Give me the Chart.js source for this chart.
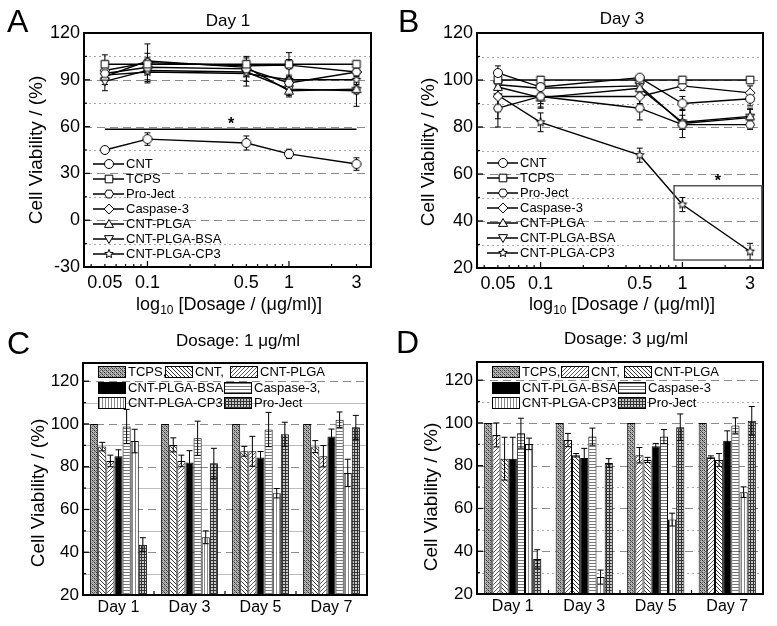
<!DOCTYPE html>
<html><head><meta charset="utf-8">
<script src="https://cdn.jsdelivr.net/npm/chart.js@4.4.1/dist/chart.umd.min.js"></script>
<style>
html,body{margin:0;padding:0;background:#fff;}
body{width:777px;height:626px;position:relative;overflow:hidden;font-family:"Liberation Sans",Arial,sans-serif;color:#000;}
canvas{position:absolute;}
.t{position:absolute;white-space:nowrap;line-height:1;}
.letter{font-size:32px;line-height:32px;}
.ttl{font-size:17px;transform:translate(-50%,-50%);}
.xt{font-size:18px;transform:translate(-50%,-50%);}
.yt{font-size:19px;transform:translate(-50%,-50%) rotate(-90deg);}
sub{font-size:12px;vertical-align:-4px;line-height:0;}
</style></head>
<body>
<canvas id="cA" width="390" height="320" style="left:0;top:0"></canvas>
<canvas id="cB" width="387" height="320" style="left:390px;top:0"></canvas>
<canvas id="cC" width="390" height="306" style="left:0;top:320px"></canvas>
<canvas id="cD" width="387" height="306" style="left:390px;top:320px"></canvas>
<div class="t letter" style="left:7px;top:5px">A</div>
<div class="t letter" style="left:398px;top:5px">B</div>
<div class="t letter" style="left:7px;top:327px">C</div>
<div class="t letter" style="left:396px;top:326px">D</div>
<div class="t ttl" style="left:228px;top:20px">Day 1</div>
<div class="t ttl" style="left:622px;top:18px">Day 3</div>
<div class="t ttl" style="left:238px;top:340px">Dosage: 1 μg/ml</div>
<div class="t ttl" style="left:626px;top:338px">Dosage: 3 μg/ml</div>
<div class="t yt" style="left:35px;top:150px">Cell Viability / (%)</div>
<div class="t yt" style="left:427px;top:152px">Cell Viability / (%)</div>
<div class="t yt" style="left:37px;top:493px">Cell Viability / (%)</div>
<div class="t yt" style="left:430px;top:497px">Cell Viability / (%)</div>
<div class="t xt" style="left:229px;top:304px">log<sub>10</sub> [Dosage / (μg/ml)]</div>
<div class="t xt" style="left:622px;top:304px">log<sub>10</sub> [Dosage / (μg/ml)]</div>
<script>
// ---------------- DATA ----------------
const doses = [0.05, 0.1, 0.5, 1, 3];
const doseTickLabels = [0.05, 0.1, 0.5, 1, 3];
const seriesNames = ['CNT','TCPS','Pro-Ject','Caspase-3','CNT-PLGA','CNT-PLGA-BSA','CNT-PLGA-CP3'];
const markerKinds = ['circle','square','hexagon','diamond','triangle','triangleDown','star'];

// Panel A - Day 1
const a_CNT      = [45, 52, 49.5, 42.5, 36];
const a_TCPS     = [100, 100, 100, 100, 100];
const a_ProJect  = [94, 98, 97, 88, 95];
const a_Caspase3 = [96, 101, 99, 99.4, 95];
const a_PLGA     = [92, 102, 98, 83, 84];
const a_BSA      = [89, 96, 95, 84, 83];
const a_CP3      = [93, 95, 94, 90, 90];
const a_errCNT      = [2, 4, 4.5, 3, 4];
const a_errTCPS     = [6, 3, 5, 3, 2];
const a_errProJect  = [5, 4, 5, 4, 3];
const a_errCaspase3 = [6, 12, 5, 8, 4];
const a_errPLGA     = [5, 5, 4, 3, 3];
const a_errBSA      = [6, 8, 6, 5, 10];
const a_errCP3      = [6, 5, 8, 3, 4];
const a_sigLineX = [0.05, 3];
const a_sigLineY = 58.3;
const a_starPos  = [0.39, 63];

// Panel B - Day 3
const b_CNT      = [103, 97, 101, 90, 92];
const b_TCPS     = [100, 100, 100, 100, 100];
const b_ProJect  = [88, 93, 88, 81, 81];
const b_Caspase3 = [93, 93, 93, 97.5, 94.5];
const b_PLGA     = [97, 92.5, 96.5, 82, 84.5];
const b_BSA      = [98, 96.5, 97.5, 81.5, 84];
const b_CP3      = [93.5, 82, 68, 47, 27];
const b_errCNT      = [3, 3, 1, 3, 3];
const b_errTCPS     = [0.5, 1, 1, 1, 0.5];
const b_errProJect  = [8, 5, 5, 2, 2];
const b_errCaspase3 = [4, 3, 3, 2, 3];
const b_errPLGA     = [3, 4, 3, 3, 3];
const b_errBSA      = [4, 5, 3, 6, 4];
const b_errCP3      = [10, 4, 3, 3, 3.5];
const b_boxX = [0.873, 3.63];
const b_boxY = [55, 23.4];
const b_starPos = [1.78, 58];

// Panels C, D - bar charts
const days = ['Day 1', 'Day 3', 'Day 5', 'Day 7'];
const barNames = ['TCPS','CNT','CNT-PLGA','CNT-PLGA-BSA','Caspase-3','CNT-PLGA-CP3','Pro-Ject'];

const c_TCPS     = [100, 100, 100, 100];
const c_CNT      = [89.4, 90.2, 87.2, 89.4];
const c_PLGA     = [82.7, 82.7, 87.2, 84.9];
const c_BSA      = [84.9, 82, 84.3, 94.1];
const c_Caspase3 = [98.8, 93.3, 97.4, 102];
const c_CP3      = [92, 47, 67.6, 77.1];
const c_ProJect  = [43.5, 81.6, 95.2, 98.4];
const c_errTCPS     = [0, 0, 0, 0];
const c_errCNT      = [2, 3.3, 2.3, 2.8];
const c_errPLGA     = [2.7, 2.7, 7, 5];
const c_errBSA      = [3, 5.5, 2.8, 3.5];
const c_errCaspase3 = [8, 8, 8, 3.6];
const c_errCP3      = [5.5, 3, 2.2, 6.4];
const c_errProJect  = [3.3, 7, 5.6, 5.6];

const d_TCPS     = [100, 100, 100, 100];
const d_CNT      = [94.4, 92, 84.9, 84];
const d_PLGA     = [83.3, 84.9, 82.7, 82.7];
const d_BSA      = [83.3, 83.6, 89.1, 91.7];
const d_Caspase3 = [95.2, 93.6, 93.6, 98.8];
const d_CP3      = [90.2, 27.9, 54.8, 67.6];
const d_ProJect  = [36.4, 81.3, 98, 101];
const d_errTCPS     = [0, 0, 0, 0];
const d_errCNT      = [5.6, 3.1, 3.6, 0.6];
const d_errPLGA     = [10, 0.8, 1.2, 3];
const d_errBSA      = [10, 4.5, 1.3, 4.6];
const d_errCaspase3 = [7, 4, 3.3, 3.6];
const d_errCP3      = [2.7, 3.3, 3, 2.5];
const d_errProJect  = [4.3, 2, 6.2, 6.7];

// ---------------- HELPERS ----------------
const FONT = "'Liberation Sans', Arial, sans-serif";
Chart.defaults.font.family = FONT;
Chart.defaults.color = '#000';

function markerPath(g, kind, x, y, r) {
  g.beginPath();
  if (kind === 'circle') { g.arc(x, y, r, 0, Math.PI * 2); }
  else if (kind === 'square') { g.rect(x - r * 0.85, y - r * 0.85, r * 1.7, r * 1.7); }
  else if (kind === 'hexagon') { for (let k = 0; k < 6; k++) { const t = k * Math.PI / 3; const px = x + r * Math.cos(t), py = y + r * Math.sin(t); k ? g.lineTo(px, py) : g.moveTo(px, py); } }
  else if (kind === 'diamond') { g.moveTo(x, y - r * 1.1); g.lineTo(x + r * 1.1, y); g.lineTo(x, y + r * 1.1); g.lineTo(x - r * 1.1, y); }
  else if (kind === 'triangle') { g.moveTo(x, y - r); g.lineTo(x + r, y + r * 0.75); g.lineTo(x - r, y + r * 0.75); }
  else if (kind === 'triangleDown') { g.moveTo(x, y + r); g.lineTo(x + r, y - r * 0.75); g.lineTo(x - r, y - r * 0.75); }
  else if (kind === 'star') { for (let k = 0; k < 10; k++) { const t = -Math.PI / 2 + k * Math.PI / 5; const rr = k % 2 ? r * 0.45 : r; const px = x + rr * Math.cos(t), py = y + rr * Math.sin(t); k ? g.lineTo(px, py) : g.moveTo(px, py); } }
  g.closePath();
}
function makeMarker(kind, r) {
  const c = document.createElement('canvas');
  const s = Math.ceil(r * 2 + 5);
  c.width = s; c.height = s;
  const g = c.getContext('2d');
  markerPath(g, kind, s / 2, s / 2, r);
  g.fillStyle = '#fff'; g.fill();
  g.lineWidth = 1; g.strokeStyle = '#000'; g.stroke();
  return c;
}
const markerImgs = markerKinds.map(k => makeMarker(k, 4.5));

function range(a, b, step) { const out = []; for (let v = a; v <= b + 1e-9; v += step) out.push(+v.toFixed(4)); return out; }

function drawFrameTicks(chart, cfg) {
  const { ctx, chartArea: a, scales: { x, y } } = chart;
  ctx.save();
  ctx.strokeStyle = '#000'; ctx.setLineDash([]); ctx.lineWidth = 1.2;
  const seg = (x1, y1, x2, y2) => { ctx.beginPath(); ctx.moveTo(x1, y1); ctx.lineTo(x2, y2); ctx.stroke(); };
  cfg.yMajorTicks.forEach(v => { const p = y.getPixelForValue(v); seg(a.left, p, a.left + 6, p); });
  cfg.yMinorTicks.forEach(v => { const p = y.getPixelForValue(v); seg(a.left, p, a.left + 3, p); });
  (cfg.xMajorTicks || []).forEach(v => { const p = x.getPixelForValue(v); seg(p, a.bottom, p, a.bottom - 6); });
  (cfg.xMinorTicks || []).forEach(v => { const p = x.getPixelForValue(v); seg(p, a.bottom, p, a.bottom - 3); });
  if (cfg.categoryTicks) {
    const n = cfg.categoryTicks;
    for (let i = 1; i < n; i++) { const p = a.left + i * (a.right - a.left) / n; seg(p, a.bottom, p, a.bottom - 4); }
  }
  ctx.lineWidth = 2;
  ctx.strokeRect(a.left, a.top, a.right - a.left, a.bottom - a.top);
  ctx.restore();
}
function drawGrid(chart, cfg) {
  const { ctx, chartArea: a, scales: { y } } = chart;
  ctx.save();
  ctx.beginPath(); ctx.rect(a.left, a.top, a.right - a.left, a.bottom - a.top); ctx.clip();
  ctx.lineWidth = 1;
  const hline = (v, color, dash) => { const p = Math.round(y.getPixelForValue(v)) + 0.5; ctx.strokeStyle = color; ctx.setLineDash(dash); ctx.beginPath(); ctx.moveTo(a.left, p); ctx.lineTo(a.right, p); ctx.stroke(); };
  cfg.gridMinor.forEach(v => hline(v, cfg.minorColor, cfg.minorDash));
  cfg.gridMajor.forEach(v => hline(v, '#8c8c8c', [8, 5]));
  ctx.restore();
}
function drawErrors(chart, errs, cap) {
  const { ctx, scales: { y } } = chart;
  ctx.save(); ctx.strokeStyle = '#000'; ctx.lineWidth = 1; ctx.setLineDash([]);
  chart.data.datasets.forEach((ds, i) => {
    const meta = chart.getDatasetMeta(i);
    ds.data.forEach((d, j) => {
      const e = errs[i][j]; if (!e) return;
      const v = typeof d === 'object' ? d.y : d;
      const px = meta.data[j].x;
      const t = y.getPixelForValue(v + e), b = y.getPixelForValue(v - e);
      ctx.beginPath();
      ctx.moveTo(px, t); ctx.lineTo(px, b);
      ctx.moveTo(px - cap, t); ctx.lineTo(px + cap, t);
      ctx.moveTo(px - cap, b); ctx.lineTo(px + cap, b);
      ctx.stroke();
    });
  });
  ctx.restore();
}
function deco(cfg) {
  return {
    id: 'deco',
    beforeDatasetsDraw(chart) {
      drawGrid(chart, cfg);
      if (cfg.lineErrors) drawErrors(chart, cfg.lineErrors, 3);
    },
    afterDatasetsDraw(chart) {
      if (cfg.barErrors) drawErrors(chart, cfg.barErrors, 3);
      drawFrameTicks(chart, cfg);
      if (cfg.extra) cfg.extra(chart);
      if (cfg.legend) cfg.legend(chart);
    }
  };
}
function lineLegend(x0, y0, dy) {
  return chart => {
    const { ctx, chartArea: a } = chart;
    ctx.save();
    ctx.font = '13px ' + FONT; ctx.textBaseline = 'middle'; ctx.fillStyle = '#000';
    chart.data.datasets.forEach((ds, i) => {
      const yy = y0 + i * dy, xx = a.left + x0;
      ctx.strokeStyle = '#000'; ctx.lineWidth = 1.5;
      ctx.beginPath(); ctx.moveTo(xx, yy); ctx.lineTo(xx + 31, yy); ctx.stroke();
      const img = ds.pointStyle;
      ctx.drawImage(img, Math.round(xx + 15.5 - img.width / 2), Math.round(yy - img.height / 2));
      ctx.fillText(ds.label, xx + 33, yy + 0.5);
    });
    ctx.restore();
  };
}
function barLegend(items, rowsY) {
  return chart => {
    const { ctx } = chart;
    ctx.save();
    ctx.font = '13px ' + FONT; ctx.textBaseline = 'middle'; ctx.fillStyle = '#000';
    items.forEach(it => {
      const ds = chart.data.datasets[it.i];
      const yy = rowsY[it.row];
      ctx.fillStyle = ds.backgroundColor;
      ctx.fillRect(it.x, yy - 5.5, 27, 11);
      ctx.strokeStyle = '#000'; ctx.lineWidth = 1;
      ctx.strokeRect(it.x + 0.5, yy - 5.5, 27, 11);
      ctx.fillStyle = '#000';
      ctx.fillText(it.label, it.x + 30, yy + 0.5);
    });
    ctx.restore();
  };
}

function lineChart(id, vals, errs, cfg) {
  const datasets = seriesNames.map((name, i) => ({
    label: name,
    data: doses.map((d, j) => ({ x: d, y: vals[i][j] })),
    borderColor: '#000', borderWidth: 1.4, backgroundColor: '#fff',
    pointStyle: markerImgs[i], pointRadius: 4.5, tension: 0, fill: false
  }));
  cfg.lineErrors = errs;
  return new Chart(document.getElementById(id), {
    type: 'line',
    data: { datasets },
    options: {
      responsive: false, animation: false, events: [],
      layout: { padding: { left: 0, right: cfg.padRight, top: cfg.padTop, bottom: 0 } },
      plugins: { legend: { display: false }, tooltip: { enabled: false }, title: { display: false } },
      scales: {
        x: {
          type: 'logarithmic', min: cfg.xMin, max: cfg.xMax,
          grid: { display: false, drawTicks: false }, border: { display: false },
          afterBuildTicks: s => { s.ticks = doseTickLabels.map(v => ({ value: v })); },
          afterFit: s => { s.height = cfg.xAxisH; },
          ticks: { autoSkip: false, maxRotation: 0, padding: 5, font: { size: 18 }, callback: v => String(v) }
        },
        y: {
          min: cfg.yMin, max: cfg.yMax,
          grid: { display: false, drawTicks: false }, border: { display: false },
          afterBuildTicks: s => { s.ticks = cfg.yLabels.map(v => ({ value: v })); },
          afterFit: s => { s.width = cfg.yAxisW; },
          ticks: { padding: 4, font: { size: 18 }, callback: v => String(v) }
        }
      }
    },
    plugins: [deco(cfg)]
  });
}

function tile(size, draw) { const c = document.createElement('canvas'); c.width = c.height = size; const g = c.getContext('2d'); draw(g, size); return c; }
function makePatterns(ctx) {
  const diag = (down, color) => tile(4, (g, s) => { g.fillStyle = '#fff'; g.fillRect(0, 0, s, s); g.fillStyle = color; for (let k = 0; k < s; k++) { g.fillRect(down ? k : s - 1 - k, k, 1, 1); } });
  return {
    tcps: ctx.createPattern(tile(4, (g, s) => { g.fillStyle = '#b4b4b4'; g.fillRect(0, 0, s, s); g.fillStyle = '#2e2e2e'; g.fillRect(0, 0, 1, 1); g.fillRect(2, 2, 1, 1); g.fillStyle = '#666'; g.fillRect(1, 1, 1, 1); g.fillRect(3, 3, 1, 1); g.fillRect(2, 0, 1, 1); g.fillRect(0, 2, 1, 1); }), 'repeat'),
    bslash: ctx.createPattern(diag(true, '#333'), 'repeat'),
    slash: ctx.createPattern(diag(false, '#555'), 'repeat'),
    black: '#000',
    horiz: ctx.createPattern(tile(3, (g, s) => { g.fillStyle = '#fff'; g.fillRect(0, 0, s, s); g.fillStyle = '#777'; g.fillRect(0, 0, s, 1); }), 'repeat'),
    vert: ctx.createPattern(tile(3, (g, s) => { g.fillStyle = '#fff'; g.fillRect(0, 0, s, s); g.fillStyle = '#888'; g.fillRect(0, 0, 1, s); }), 'repeat'),
    grid: ctx.createPattern(tile(3, (g, s) => { g.fillStyle = '#c8c8c8'; g.fillRect(0, 0, s, s); g.fillStyle = '#333'; g.fillRect(0, 0, s, 1); g.fillRect(0, 0, 1, s); }), 'repeat')
  };
}

function barChart(id, vals, errs, fills, cfg) {
  const datasets = barNames.map((name, i) => ({
    label: name, data: vals[i], backgroundColor: fills[i],
    borderColor: '#000', borderWidth: 1, categoryPercentage: 0.8, barPercentage: 1
  }));
  cfg.barErrors = errs;
  return new Chart(document.getElementById(id), {
    type: 'bar',
    data: { labels: days, datasets },
    options: {
      responsive: false, animation: false, events: [],
      layout: { padding: { left: 0, right: cfg.padRight, top: cfg.padTop, bottom: 0 } },
      plugins: { legend: { display: false }, tooltip: { enabled: false }, title: { display: false } },
      scales: {
        x: {
          grid: { display: false, drawTicks: false }, border: { display: false },
          afterFit: s => { s.height = cfg.xAxisH; },
          ticks: { padding: 3, font: { size: 16 }, maxRotation: 0 }
        },
        y: {
          min: 20, max: 128.5,
          grid: { display: false, drawTicks: false }, border: { display: false },
          afterBuildTicks: s => { s.ticks = [20, 40, 60, 80, 100, 120].map(v => ({ value: v })); },
          afterFit: s => { s.width = cfg.yAxisW; },
          ticks: { padding: 4, font: { size: 17 }, callback: v => String(v) }
        }
      }
    },
    plugins: [deco(cfg)]
  });
}

// ---------------- PANEL A ----------------
lineChart('cA',
  [a_CNT, a_TCPS, a_ProJect, a_Caspase3, a_PLGA, a_BSA, a_CP3],
  [a_errCNT, a_errTCPS, a_errProJect, a_errCaspase3, a_errPLGA, a_errBSA, a_errCP3],
  {
    padRight: 19, padTop: 33, xAxisH: 53, yAxisW: 84,
    xMin: 0.0356, xMax: 3.8, yMin: -30, yMax: 120,
    yLabels: [-30, 0, 30, 60, 90, 120],
    gridMajor: [0, 30, 60, 90], gridMinor: [-15, 15, 45, 75, 105], minorColor: '#a8a8a8', minorDash: [2, 3],
    yMajorTicks: range(-30, 120, 30), yMinorTicks: range(-15, 105, 30),
    xMajorTicks: [0.1, 1], xMinorTicks: [0.04, 0.05, 0.06, 0.07, 0.08, 0.09, 0.2, 0.3, 0.4, 0.5, 0.6, 0.7, 0.8, 0.9, 2, 3],
    legend: lineLegend(9, 164, 15),
    extra: chart => {
      const { ctx, scales: { x, y } } = chart;
      ctx.save();
      ctx.strokeStyle = '#000'; ctx.lineWidth = 1.5;
      const py = y.getPixelForValue(a_sigLineY);
      ctx.beginPath(); ctx.moveTo(x.getPixelForValue(a_sigLineX[0]), py); ctx.lineTo(x.getPixelForValue(a_sigLineX[1]), py); ctx.stroke();
      ctx.font = 'bold 16px ' + FONT; ctx.textAlign = 'center'; ctx.textBaseline = 'middle'; ctx.fillStyle = '#000';
      ctx.fillText('*', x.getPixelForValue(a_starPos[0]), y.getPixelForValue(a_starPos[1]) + 3);
      ctx.restore();
    }
  });

// ---------------- PANEL B ----------------
lineChart('cB',
  [b_CNT, b_TCPS, b_ProJect, b_Caspase3, b_PLGA, b_BSA, b_CP3],
  [b_errCNT, b_errTCPS, b_errProJect, b_errCaspase3, b_errPLGA, b_errBSA, b_errCP3],
  {
    padRight: 14, padTop: 33, xAxisH: 52, yAxisW: 87,
    xMin: 0.0356, xMax: 3.7, yMin: 20, yMax: 120,
    yLabels: [20, 40, 60, 80, 100, 120],
    gridMajor: [40, 60, 80, 100], gridMinor: [30, 50, 70, 90, 110], minorColor: '#a8a8a8', minorDash: [2, 3],
    yMajorTicks: range(20, 120, 20), yMinorTicks: range(30, 110, 20),
    xMajorTicks: [0.1, 1], xMinorTicks: [0.04, 0.05, 0.06, 0.07, 0.08, 0.09, 0.2, 0.3, 0.4, 0.5, 0.6, 0.7, 0.8, 0.9, 2, 3],
    legend: lineLegend(10, 163, 15),
    extra: chart => {
      const { ctx, scales: { x, y } } = chart;
      ctx.save();
      ctx.strokeStyle = '#555'; ctx.lineWidth = 1.5;
      const x1 = x.getPixelForValue(b_boxX[0]), x2 = x.getPixelForValue(b_boxX[1]);
      const y1 = y.getPixelForValue(b_boxY[0]), y2 = y.getPixelForValue(b_boxY[1]);
      ctx.strokeRect(x1, y1, x2 - x1, y2 - y1);
      ctx.font = 'bold 16px ' + FONT; ctx.textAlign = 'center'; ctx.textBaseline = 'middle'; ctx.fillStyle = '#000';
      ctx.fillText('*', x.getPixelForValue(b_starPos[0]), y.getPixelForValue(b_starPos[1]) + 3);
      ctx.restore();
    }
  });

// ---------------- PANEL C ----------------
const pC = makePatterns(document.getElementById('cC').getContext('2d'));
barChart('cC',
  [c_TCPS, c_CNT, c_PLGA, c_BSA, c_Caspase3, c_CP3, c_ProJect],
  [c_errTCPS, c_errCNT, c_errPLGA, c_errBSA, c_errCaspase3, c_errCP3, c_errProJect],
  [pC.tcps, pC.bslash, pC.slash, pC.black, pC.horiz, pC.vert, pC.grid],
  {
    padRight: 23, padTop: 43, xAxisH: 31, yAxisW: 83,
    gridMajor: [40, 60, 80, 100, 120], gridMinor: [30, 50, 70, 90, 110], minorColor: '#bdbdbd', minorDash: [],
    yMajorTicks: range(20, 120, 20), yMinorTicks: range(30, 110, 20), categoryTicks: 4,
    legend: barLegend([
      { i: 0, label: 'TCPS,', x: 98, row: 0 }, { i: 1, label: 'CNT,', x: 165, row: 0 }, { i: 2, label: 'CNT-PLGA', x: 230, row: 0 },
      { i: 3, label: 'CNT-PLGA-BSA', x: 98, row: 1 }, { i: 4, label: 'Caspase-3,', x: 224, row: 1 },
      { i: 5, label: 'CNT-PLGA-CP3', x: 98, row: 2 }, { i: 6, label: 'Pro-Ject', x: 224, row: 2 }
    ], [52, 68, 83])
  });

// ---------------- PANEL D ----------------
const pD = makePatterns(document.getElementById('cD').getContext('2d'));
barChart('cD',
  [d_TCPS, d_CNT, d_PLGA, d_BSA, d_Caspase3, d_CP3, d_ProJect],
  [d_errTCPS, d_errCNT, d_errPLGA, d_errBSA, d_errCaspase3, d_errCP3, d_errProJect],
  [pD.tcps, pD.slash, pD.bslash, pD.black, pD.horiz, pD.vert, pD.grid],
  {
    padRight: 14, padTop: 42, xAxisH: 32, yAxisW: 87,
    gridMajor: [40, 60, 80, 100, 120], gridMinor: [30, 50, 70, 90, 110], minorColor: '#a8a8a8', minorDash: [2, 3],
    yMajorTicks: range(20, 120, 20), yMinorTicks: range(30, 110, 20), categoryTicks: 4,
    legend: barLegend([
      { i: 0, label: 'TCPS,', x: 102, row: 0 }, { i: 1, label: 'CNT,', x: 171, row: 0 }, { i: 2, label: 'CNT-PLGA', x: 234, row: 0 },
      { i: 3, label: 'CNT-PLGA-BSA,', x: 102, row: 1 }, { i: 4, label: 'Caspase-3', x: 228, row: 1 },
      { i: 5, label: 'CNT-PLGA-CP3,', x: 102, row: 2 }, { i: 6, label: 'Pro-Ject', x: 228, row: 2 }
    ], [52, 68, 83])
  });
</script>
</body></html>
